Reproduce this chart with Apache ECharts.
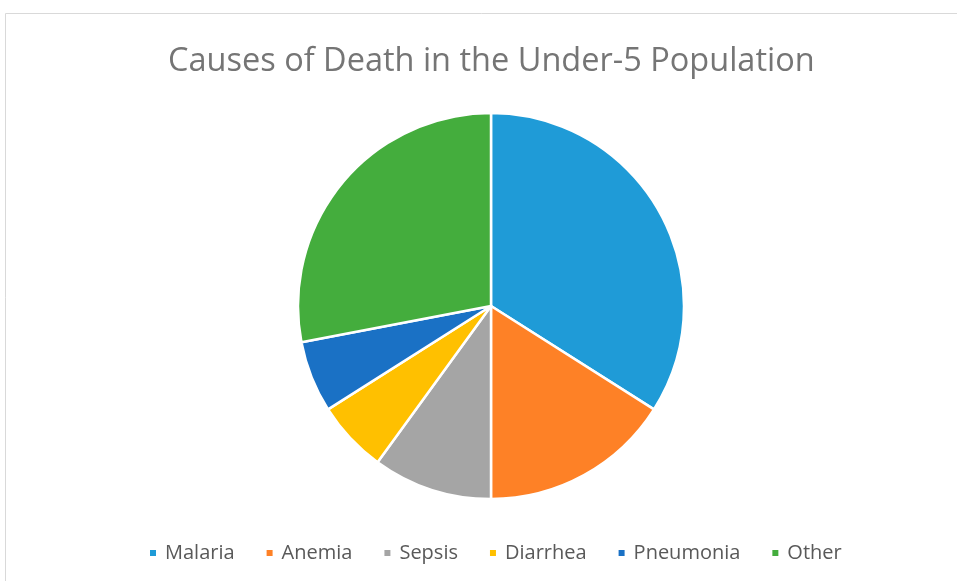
<!DOCTYPE html>
<html><head><meta charset="utf-8">
<script src="https://cdn.jsdelivr.net/npm/echarts@6/dist/echarts.min.js"></script>
<style>html,body{margin:0;padding:0;background:#fff}#c{width:957px;height:581px}</style>
</head><body><div id="c"></div>
<script>
const categories = ['Malaria','Anemia','Sepsis','Diarrhea','Pneumonia','Other'];
const values = [34, 16, 10, 6, 6, 28];
const colors = ['#1F9BD7','#FE8126','#A5A5A5','#FFC000','#1A71C5','#44AD3D'];
const chart = echarts.init(document.getElementById('c'));
chart.setOption({
  animation:false,
  title:{text:'Causes of Death in the Under-5 Population',left:163,top:40,
    textStyle:{fontFamily:'Open Sans',fontSize:32.5,fontWeight:'normal',color:'#757575'}},
  graphic:[{type:'rect',shape:{x:5.5,y:13.5,width:1000,height:1000},style:{fill:'none',stroke:'#D9D9D9',lineWidth:1},silent:true}],
  legend:{bottom:13,left:143,itemWidth:8,itemHeight:8,itemGap:30,icon:'rect',
    textStyle:{fontFamily:'Open Sans',fontSize:20,color:'#595959',padding:[0,0,0,3]},data:categories},
  series:[{type:'pie',center:[491,306],radius:[0,193],startAngle:90,clockwise:true,
    label:{show:false},labelLine:{show:false},
    itemStyle:{borderColor:'#fff',borderWidth:2.5},
    data:categories.map((n,i)=>({name:n,value:values[i],itemStyle:{color:colors[i]}}))}]
});
</script></body></html>
